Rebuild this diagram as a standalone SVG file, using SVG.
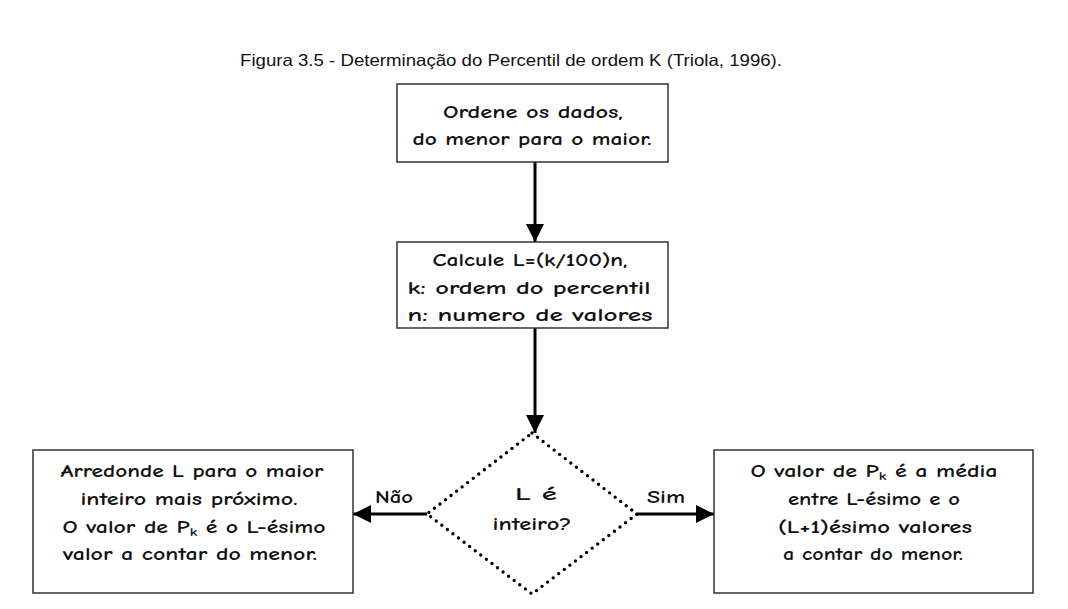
<svg xmlns="http://www.w3.org/2000/svg" width="1068" height="609" viewBox="0 0 1068 609">
<style>
.box{fill:#fff;stroke:#333;stroke-width:1.5}
.t{font-family:"Comic Neue","DejaVu Sans","Liberation Sans",sans-serif;font-size:18.5px;font-weight:bold;fill:#111;text-anchor:middle}
.title{font-family:"Liberation Sans","DejaVu Sans",sans-serif;font-size:16.5px;fill:#111;text-anchor:middle}
.ln{stroke:#000;stroke-width:3;fill:none}
.dia{fill:none;stroke:#000;stroke-width:3.4;stroke-linecap:round;stroke-dasharray:0 7}
.sub{font-size:12px}
</style>
<defs>
<marker id="ah" viewBox="0 0 10 10" refX="10" refY="5" markerWidth="6.5" markerHeight="6" markerUnits="strokeWidth" orient="auto">
<path d="M0,0 L10,5 L0,10 z" fill="#000"/>
</marker>
</defs>
<rect width="1068" height="609" fill="#fff"/>
<text class="title" x="511" y="66" textLength="542" lengthAdjust="spacingAndGlyphs">Figura 3.5 -   Determinação do Percentil de ordem K (Triola, 1996).</text>
<g id="connectors">
<line class="ln" x1="535" y1="162" x2="535" y2="242" marker-end="url(#ah)"/>
<line class="ln" x1="535" y1="328" x2="535" y2="433" marker-end="url(#ah)"/>
<line class="ln" x1="427" y1="514" x2="353" y2="514" marker-end="url(#ah)"/>
<line class="ln" x1="637" y1="514" x2="714" y2="514" marker-end="url(#ah)"/>
<text class="t" x="394" y="503" textLength="38" lengthAdjust="spacingAndGlyphs">Não</text>
<text class="t" x="666" y="503" textLength="38" lengthAdjust="spacingAndGlyphs">Sim</text>
</g>
<g id="n1">
<rect class="box" x="397" y="84" width="271" height="78"/>
<text class="t" x="533" y="118" textLength="180" lengthAdjust="spacingAndGlyphs">Ordene os dados,</text>
<text class="t" x="532" y="145" textLength="239" lengthAdjust="spacingAndGlyphs">do menor para o maior.</text>
</g>
<g id="n2">
<rect class="box" x="397" y="242" width="271" height="86"/>
<text class="t" x="530" y="266" textLength="195" lengthAdjust="spacingAndGlyphs">Calcule L=(k/100)n,</text>
<text class="t" x="529" y="294" textLength="243" lengthAdjust="spacingAndGlyphs">k: ordem do percentil</text>
<text class="t" x="530" y="321" textLength="245" lengthAdjust="spacingAndGlyphs">n: numero de valores</text>
</g>
<g id="n3">
<polygon class="dia" points="532,433 637,514 532,594 427,514"/>
<text class="t" x="536" y="500" textLength="42" lengthAdjust="spacingAndGlyphs">L é</text>
<text class="t" x="532" y="530" textLength="79" lengthAdjust="spacingAndGlyphs">inteiro?</text>
</g>
<g id="n4">
<rect class="box" x="33" y="450" width="320" height="143"/>
<text class="t" x="192" y="477" textLength="263" lengthAdjust="spacingAndGlyphs">Arredonde L para o maior</text>
<text class="t" x="189" y="505" textLength="217" lengthAdjust="spacingAndGlyphs">inteiro mais próximo.</text>
<text class="t" x="194" y="533" textLength="263" lengthAdjust="spacingAndGlyphs">O valor de P<tspan class="sub" dy="3">k</tspan><tspan dy="-3"> é o L-ésimo</tspan></text>
<text class="t" x="190" y="560" textLength="254" lengthAdjust="spacingAndGlyphs">valor a contar do menor.</text>
</g>
<g id="n5">
<rect class="box" x="714" y="450" width="319" height="143"/>
<text class="t" x="874" y="477" textLength="247" lengthAdjust="spacingAndGlyphs">O valor de P<tspan class="sub" dy="3">k</tspan><tspan dy="-3"> é a média</tspan></text>
<text class="t" x="874" y="505" textLength="172" lengthAdjust="spacingAndGlyphs">entre L-ésimo e o</text>
<text class="t" x="875" y="533" textLength="194" lengthAdjust="spacingAndGlyphs">(L+1)ésimo valores</text>
<text class="t" x="873" y="560" textLength="180" lengthAdjust="spacingAndGlyphs">a contar do menor.</text>
</g>
</svg>
